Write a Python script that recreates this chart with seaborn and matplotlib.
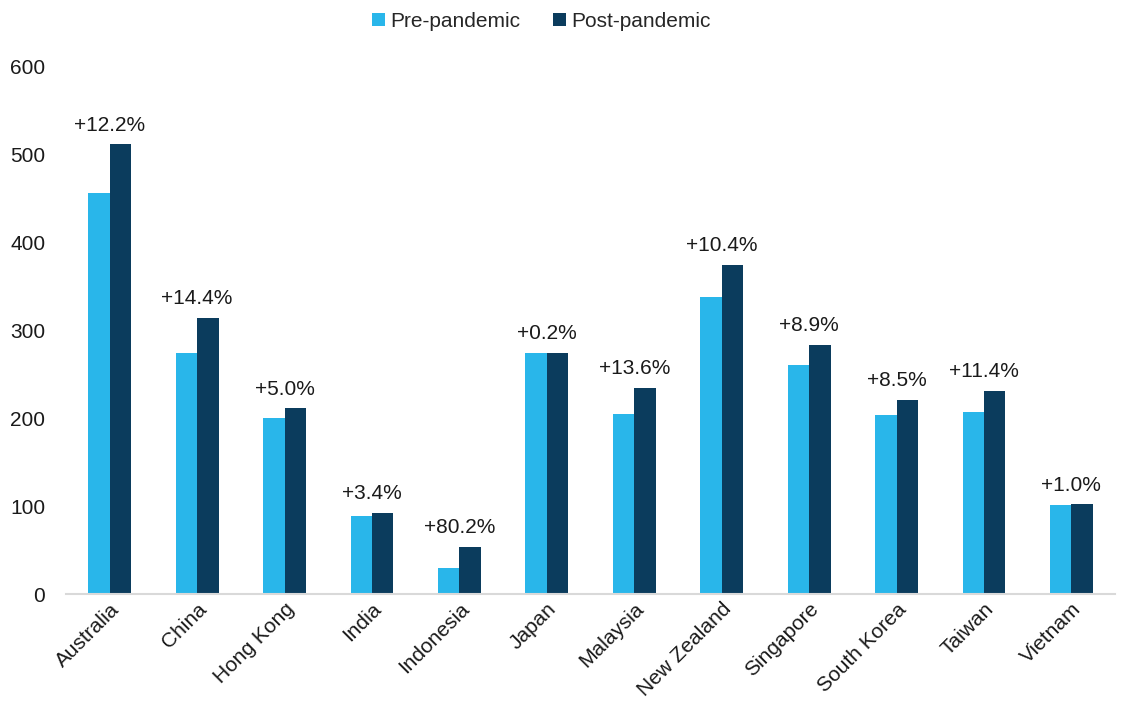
import matplotlib
matplotlib.use("Agg")
import matplotlib.pyplot as plt
import seaborn as sns
import pandas as pd

countries = ["Australia", "China", "Hong Kong", "India", "Indonesia", "Japan",
             "Malaysia", "New Zealand", "Singapore", "South Korea", "Taiwan", "Vietnam"]
pre_pandemic = [456, 274, 200, 89, 30, 274, 205, 338, 260, 204, 207, 101]
post_pandemic = [511, 314, 211, 92, 54, 274, 234, 374, 283, 221, 231, 102]
change_labels = ["+12.2%", "+14.4%", "+5.0%", "+3.4%", "+80.2%", "+0.2%",
                 "+13.6%", "+10.4%", "+8.9%", "+8.5%", "+11.4%", "+1.0%"]
series_names = ["Pre-pandemic", "Post-pandemic"]
y_ticks = [0, 100, 200, 300, 400, 500, 600]

df = pd.DataFrame({
    "country": countries * 2,
    "value": pre_pandemic + post_pandemic,
    "period": [series_names[0]] * len(countries) + [series_names[1]] * len(countries),
})

sns.set_theme(style="white")
plt.rcParams["font.family"] = ["Liberation Sans", "DejaVu Sans"]

fig = plt.figure(figsize=(11.21, 7.06), dpi=100)
ax = fig.add_axes([0.0589, 0.1586, 0.9358, 0.7479])

palette = {"Pre-pandemic": "#29B6EA", "Post-pandemic": "#0B3C5D"}
sns.barplot(data=df, x="country", y="value", hue="period", order=countries,
            hue_order=series_names, palette=palette, width=0.49, gap=0,
            saturation=1, linewidth=0, ax=ax, legend=True)

ax.set_xlim(-0.5, len(countries) - 0.5)
ax.set_ylim(0, 600)
ax.set_yticks(y_ticks)
ax.set_yticklabels([str(t) for t in y_ticks], fontsize=15, color="#1a1a1a")
ax.set_xlabel("")
ax.set_ylabel("")
ax.tick_params(axis="y", length=0, pad=15)
ax.tick_params(axis="x", length=0, pad=4)
plt.setp(ax.get_xticklabels(), rotation=45, ha="right", rotation_mode="anchor",
         fontsize=15, color="#1a1a1a")

for s in ["top", "right", "left"]:
    ax.spines[s].set_visible(False)
ax.spines["bottom"].set_color("#D9D9D9")
ax.spines["bottom"].set_linewidth(1.5)

for i, lab in enumerate(change_labels):
    top = max(pre_pandemic[i], post_pandemic[i])
    ax.annotate(lab, xy=(i, top), xytext=(0, 7), textcoords="offset points",
                ha="center", va="bottom", fontsize=15, color="#1a1a1a")

handles, labels = ax.get_legend_handles_labels()
ax.legend_.remove()
fig.legend(handles, labels, loc="upper center", bbox_to_anchor=(0.483, 1.01), ncol=2,
           frameon=False, fontsize=15, handlelength=0.6, handleheight=0.6,
           handletextpad=0.25, columnspacing=1.6)

fig.savefig("out.png", dpi=100)
